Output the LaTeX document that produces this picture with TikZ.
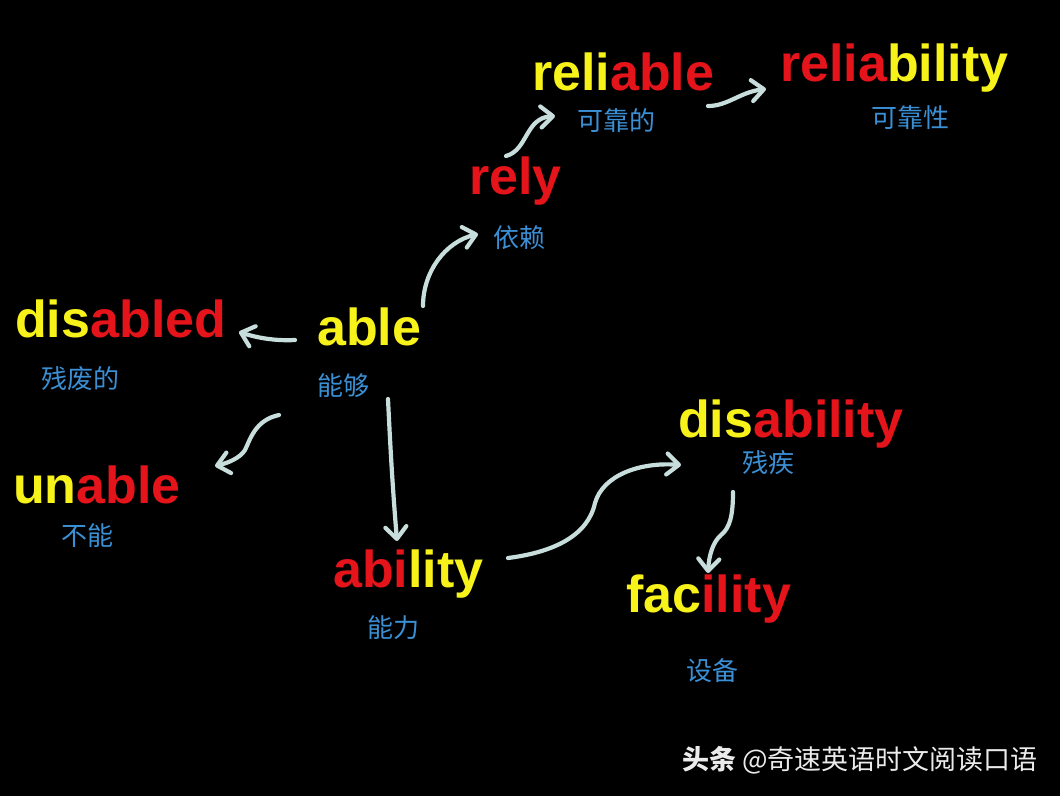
\documentclass[tikz,border=0pt]{standalone}
\usepackage{fontspec}
\setmainfont{Liberation Sans}
\newfontfamily\cjk{Noto Sans CJK SC}
\usetikzlibrary{arrows.meta}
\definecolor{yel}{HTML}{F7F21A}
\definecolor{rd}{HTML}{E5141B}
\definecolor{cn}{HTML}{3B8FD4}
\definecolor{arrc}{HTML}{C8DEDC}
\begin{document}
\begin{tikzpicture}[x=1pt,y=-1pt,
 word/.style={anchor=base west,inner sep=0pt,font=\fontsize{52}{52}\selectfont\bfseries},
 zh/.style={inner sep=0pt,text=cn,font=\cjk\fontsize{26}{26}\selectfont},
 arr/.style={draw=arrc,line width=4.2pt,line cap=round,-{Straight Barb[length=12pt,width=21pt,round]}}]
\fill[black] (0,0) rectangle (1060,796);
\useasboundingbox (0,0) rectangle (1060,796);
% words
\node[word] (reliable) at (532,90) {\textcolor{yel}{reli}\textcolor{rd}{able}};
\node[word] (reliability) at (780,81) {\textcolor{rd}{relia}\textcolor{yel}{bility}};
\node[word] (rely) at (469,194) {\textcolor{rd}{rely}};
\node[word] (disabled) at (15,337) {\textcolor{yel}{dis}\textcolor{rd}{abled}};
\node[word] (able) at (317,345) {\textcolor{yel}{able}};
\node[word] (unable) at (13,503) {\textcolor{yel}{un}\textcolor{rd}{able}};
\node[word] (ability) at (333,587) {\textcolor{rd}{abi}\textcolor{yel}{lity}};
\node[word] (disability) at (678,437) {\textcolor{yel}{dis}\textcolor{rd}{ability}};
\node[word] (facility) at (626,612) {\textcolor{yel}{fac}\textcolor{rd}{ility}};
% chinese
\node[zh] (zreliable) at (616,121) {可靠的};
\node[zh] (zreliability) at (910,118) {可靠性};
\node[zh] (zrely) at (519,238) {依赖};
\node[zh] (zdisabled) at (80,379) {残废的};
\node[zh] (zable) at (343,386) {能够};
\node[zh] (zunable) at (87,536) {不能};
\node[zh] (zability) at (393,628) {能力};
\node[zh] (zdisability) at (768,463) {残疾};
\node[zh] (zfacility) at (712,671) {设备};
% watermark
\node[anchor=west,inner sep=0pt,text=white!92!black,font=\cjk\fontsize{27}{27}\selectfont] (wm) at (682,760) {\textbf{头条} @奇速英语时文阅读口语};
% connector ends
\coordinate (s1) at (423,306); \coordinate (e1) at (478,234);
\coordinate (s2) at (506,156); \coordinate (e2) at (555,116);
\coordinate (s3) at (708,106); \coordinate (e3) at (766,89);
\coordinate (s4) at (295,340); \coordinate (e4) at (239,332);
\coordinate (s5) at (279,415); \coordinate (e5) at (215,466);
\coordinate (s6) at (388,399); \coordinate (e6) at (397,541);
\coordinate (s7) at (508,558); \coordinate (e7) at (681,465);
\coordinate (s8) at (733,492); \coordinate (e8) at (708,573);
% connectors
\draw[arr] (s1) .. controls (423,272) and (445,242) .. (e1);
\draw[arr] (s2) .. controls (528,150) and (525,118) .. (e2);
\draw[arr] (s3) .. controls (728,106) and (740,92) .. (e3);
\draw[arr] (s4) .. controls (275,341) and (258,338) .. (e4);
\draw[arr] (s5) .. controls (255,420) and (250,440) .. (245,450) .. controls (240,458) and (228,463) .. (e5);
\draw[arr] (s6) .. controls (390,440) and (392,480) .. (e6);
\draw[arr] (s7) .. controls (555,552) and (588,535) .. (595,503) .. controls (603,475) and (640,462) .. (e7);
\draw[arr] (s8) .. controls (733,515) and (730,528) .. (721,535) .. controls (713,542) and (709,555) .. (e8);
\end{tikzpicture}
\end{document}
